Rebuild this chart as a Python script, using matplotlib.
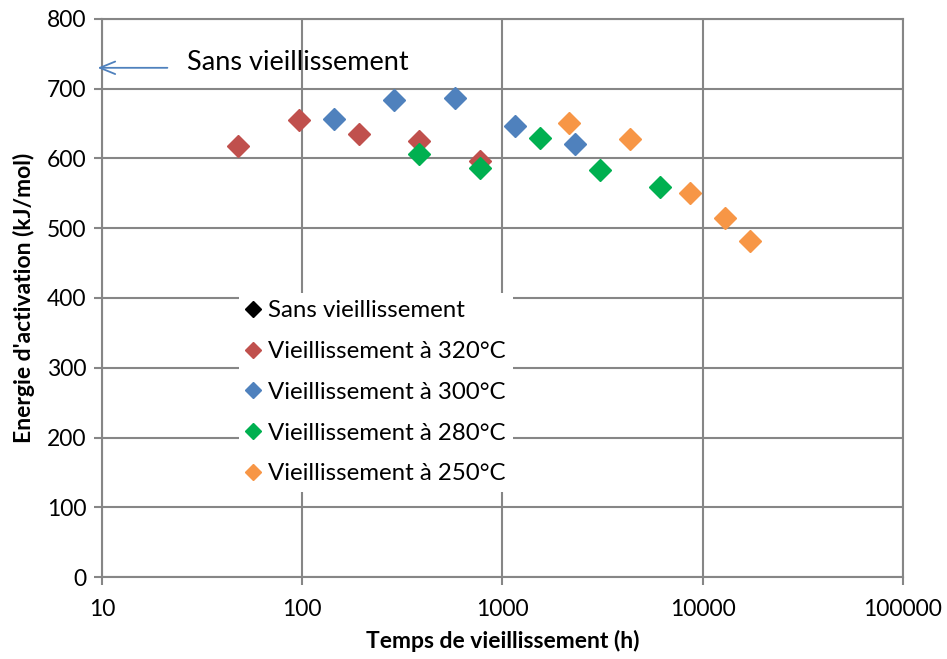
import matplotlib
matplotlib.use("Agg")
import matplotlib.pyplot as plt

plt.rcParams['font.family'] = ['Lato', 'DejaVu Sans']

# Aging times (h) and activation energies (kJ/mol) per aging temperature
t_320 = [48, 96, 192, 384, 768]
e_320 = [618, 655, 635, 625, 596]

t_300 = [144, 288, 576, 1152, 2304]
e_300 = [657, 684, 687, 647, 621]

t_280 = [384, 768, 1536, 3072, 6144]
e_280 = [606, 586, 629, 583, 559]

t_250 = [2160, 4320, 8640, 12960, 17280]
e_250 = [651, 628, 550, 515, 482]

e_unaged = 730

series = [
    ("Sans vieillissement", [], [], "#000000"),
    ("Vieillissement à 320°C", t_320, e_320, "#C0504D"),
    ("Vieillissement à 300°C", t_300, e_300, "#4F81BD"),
    ("Vieillissement à 280°C", t_280, e_280, "#00B050"),
    ("Vieillissement à 250°C", t_250, e_250, "#F79646"),
]

x_ticks = [10, 100, 1000, 10000, 100000]
y_ticks = list(range(0, 801, 100))

fig = plt.figure(figsize=(9.47, 6.59), dpi=100)
ax = fig.add_axes([0.1077, 0.1244, 0.8458, 0.8468])

grid_c = "#868686"
for name, xs, ys, col in series:
    ax.plot(xs, ys, linestyle="none", marker="D", markersize=11.5,
            color=col, markeredgecolor=col, label=name, zorder=3)

ax.set_xscale("log")
ax.set_xlim(10, 100000)
ax.set_ylim(0, 800)
ax.set_xticks(x_ticks)
ax.set_xticklabels([str(v) for v in x_ticks])
ax.minorticks_off()
ax.set_yticks(y_ticks)
ax.grid(True, color=grid_c, linewidth=1.5, zorder=0)
ax.set_axisbelow(True)
for s in ax.spines.values():
    s.set_color(grid_c)
    s.set_linewidth(1.5)
ax.tick_params(axis="both", colors=grid_c, length=6, width=1.5,
               labelcolor="black", labelsize=16.5)
ax.tick_params(axis="x", pad=10)
ax.tick_params(axis="y", pad=5)

ax.set_xlabel("Temps de vieillissement (h)", fontsize=16.5,
              fontweight="bold", labelpad=7)
ax.set_ylabel("Energie d'activation (kJ/mol)", fontsize=16.5,
              fontweight="bold", labelpad=9)

# Reference level for the unaged material
ax.annotate("", xy=(9.2, e_unaged), xytext=(21.9, e_unaged),
            xycoords="data", textcoords="data", annotation_clip=False,
            arrowprops=dict(arrowstyle="->,head_length=1.1,head_width=0.45",
                            color="#4F81BD", linewidth=1.3))
ax.text(26.5, e_unaged + 8, "Sans vieillissement", fontsize=19.5,
        ha="left", va="center")

leg = ax.legend(loc="upper left", bbox_to_anchor=(0.156, 0.530),
                frameon=True, fancybox=False, framealpha=1.0,
                edgecolor="none", facecolor="white", fontsize=17.3,
                handlelength=0.6, handletextpad=0.3, labelspacing=0.82,
                borderpad=0.3, markerscale=0.72)
leg.set_zorder(5)

fig.savefig("out.png", dpi=100)
